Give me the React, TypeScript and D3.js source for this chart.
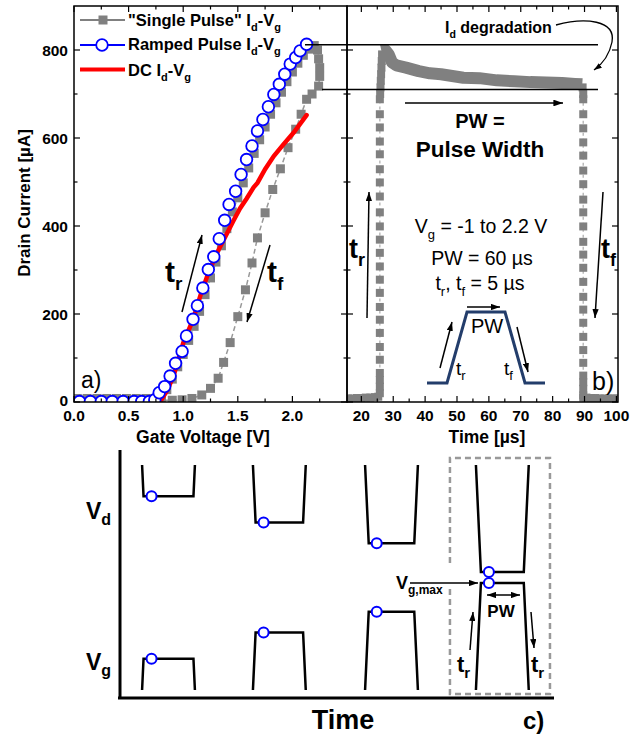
import React from "react";
import * as d3 from "d3";

const FONT = "'Liberation Sans', Arial, Helvetica, sans-serif";

// ---------- panel a: Id-Vg ----------
const rampV = [0.05, 0.15, 0.25, 0.35, 0.45, 0.55, 0.62, 0.69, 0.74, 0.78, 0.83, 0.88, 0.93, 0.99, 1.03, 1.09, 1.13, 1.18, 1.23, 1.28, 1.33, 1.38, 1.42, 1.48, 1.53, 1.58, 1.63, 1.68, 1.73, 1.78, 1.83, 1.88, 1.93, 1.98, 2.03, 2.07, 2.13];
const rampI = [1, 1, 1, 1, 1, 1, 1, 1, 5, 21, 35, 59, 88, 115, 150, 188, 219, 259, 301, 330, 371, 413, 449, 479, 517, 551, 582, 616, 642, 671, 699, 722, 745, 768, 783, 798, 813];

const singleV = [0.03, 0.12, 0.21, 0.3, 0.39, 0.48, 0.57, 0.66, 0.74, 0.8, 0.85, 0.9, 0.95, 1.0, 1.05, 1.1, 1.15, 1.2, 1.25, 1.3, 1.35, 1.4, 1.45, 1.5, 1.55, 1.6, 1.65, 1.7, 1.75, 1.8, 1.85, 1.9, 1.95, 2.0, 2.05, 2.1, 2.15, 2.2, 2.23, 2.24, 2.25, 2.25, 2.24, 2.18, 2.13, 2.08, 2.03, 1.96, 1.89, 1.82, 1.75, 1.68, 1.63, 1.57, 1.5, 1.43, 1.37, 1.32, 1.25, 1.17, 1.08, 0.99, 0.9, 0.8, 0.7, 0.6, 0.5, 0.4, 0.3, 0.2, 0.1, 0.02];
const singleI = [8, 8, 8, 8, 8, 8, 8, 8, 8, 12, 28, 52, 80, 108, 140, 172, 206, 244, 282, 318, 355, 394, 432, 464, 498, 532, 565, 596, 625, 654, 680, 704, 728, 750, 770, 788, 802, 810, 800, 780, 760, 740, 718, 700, 688, 654, 620, 578, 530, 483, 430, 373, 316, 255, 194, 135, 90, 54, 31, 16, 8, 5, 4, 4, 4, 4, 4, 4, 4, 4, 4, 4];

const dcV = [0.8, 0.85, 0.91, 1.0, 1.09, 1.16, 1.23, 1.31, 1.39, 1.46, 1.52, 1.58, 1.645, 1.68, 1.75, 1.83, 1.92, 2.01, 2.13];
const dcI = [5, 25, 58, 134, 187, 244, 293, 339, 378, 412, 440, 462, 488, 498, 529, 559, 586, 612, 652];

const aXTicks = [0, 0.5, 1.0, 1.5, 2.0];
const aXMinor = [0.25, 0.75, 1.25, 1.75, 2.25];
const iTicks = [0, 200, 400, 600, 800];
const iMinor = [100, 300, 500, 700];

// ---------- panel b: single pulse Id(t) ----------
const edgeT = [15.8, 17.2, 18.6, 20, 21.4, 22.8, 24.2, 25.3, 25.8, 25.8, 25.8, 25.8, 25.8, 25.8, 25.8, 25.8, 25.8, 25.8, 25.8, 25.8, 25.8, 25.8, 25.8, 25.8, 25.8, 25.8, 25.8, 25.8, 25.8, 25.8, 25.8, 25.8, 25.9, 26, 26.1, 26.2, 26.3, 26.4, 26.5];
const edgeI = [8, 8, 9, 9, 10, 10, 11, 12, 20, 35, 50, 66, 96, 125, 157, 187, 216, 248, 278, 308, 339, 369, 399, 431, 467, 499, 529, 563, 592, 624, 654, 688, 700, 715, 730, 745, 760, 775, 790];
const fallT = [89.4, 89.6, 89.6, 89.6, 89.6, 89.6, 89.6, 89.6, 89.6, 89.6, 89.6, 89.6, 89.6, 89.6, 89.6, 89.6, 89.6, 89.6, 89.6, 89.6, 89.6, 89.6, 89.6, 89.6, 89.6, 89.6, 89.6, 90.6, 92, 93.4, 94.8, 96.2, 97.6, 99, 100.2];
const fallI = [715, 700, 688, 654, 622, 590, 560, 526, 495, 460, 431, 399, 364, 335, 305, 273, 239, 210, 180, 148, 118, 89, 60, 45, 30, 15, 10, 10, 9, 9, 8, 8, 8, 8, 8];
const plateauT = [26.3, 27.5, 28.6, 29.6, 31, 34, 38, 41.5, 45, 52, 57, 62.5, 68, 73, 78, 83, 87, 89.3];
const plateauI = [798, 800, 790, 772, 765, 760, 752, 747, 745, 737, 736, 731, 729, 727, 726, 725, 723, 722];

const bXTicks = [20, 30, 40, 50, 60, 70, 80, 90, 100];
const bXMinor = [25, 35, 45, 55, 65, 75, 85, 95];

// ---------- panel c: pulse trains ----------
const cPulseStart = [5.1, 30.7, 56.6, 82.2];
const cVgAmp = [0.6, 1.1, 1.5, 2.05];

function Sub({ size, shift, children }: { size: number; shift: number; children: React.ReactNode }) {
  return (
    <tspan fontSize={size} dy={shift}>
      {children}
    </tspan>
  );
}

export default function App() {
  const xA = d3.scaleLinear().domain([0, 2.5]).range([74, 347]);
  const yI = d3.scaleLinear().domain([0, 900]).range([402, 6]);
  const xB = d3.scaleLinear().domain([15.5, 100.5]).range([347, 618]);
  const xC = d3.scaleLinear().domain([0, 100]).range([120, 553]);
  const yVg = d3.scaleLinear().domain([0, 2.05]).range([690, 583]);
  const yVd = d3.scaleLinear().domain([0, 2.05]).range([465, 572]);

  const pathA = (vs: number[], is: number[]) =>
    d3.line<number>().x((v) => xA(v)).y((_, i) => yI(is[i]))(vs) || "";
  const pathB = (ts: number[], is: number[]) =>
    d3.line<number>().x((t) => xB(t)).y((_, i) => yI(is[i]))(ts) || "";

  const bT = [...edgeT, ...plateauT, ...fallT];
  const bI = [...edgeI, ...plateauI, ...fallI];
  const sqT = [...edgeT, ...fallT];
  const sqI = [...edgeI, ...fallI];

  const [aL, aR] = xA.range();
  const [bL, bR] = xB.range();
  const [yB, yT] = yI.range();

  const rw = 0.56; // rise width per volt (time units)
  const pw = 12.2;

  // dashed box round the last pulse, open on the left where the arrow enters
  const bx0 = xC(76.2);
  const bx1 = xC(99.3);
  const by0 = yVd(0) - 7;
  const by1 = yVg(0) + 4;
  const boxPath = `M${bx0},563 L${bx0},${by0} L${bx1},${by0} L${bx1},${by1} L${bx0},${by1} L${bx0},589`;

  return (
    <svg
      width={639}
      height={735}
      style={{ position: "absolute", left: 0, top: 0, background: "#fff" }}
      fontFamily={FONT}
    >
      <defs>
        <marker id="ah" viewBox="0 0 10 7" refX="10" refY="3.5" markerWidth="6" markerHeight="4.2" orient="auto">
          <path d="M0,0 L10,3.5 L0,7 z" fill="#000" />
        </marker>
        <clipPath id="clipA">
          <rect x={aL} y={yT} width={aR - aL} height={yB - yT} />
        </clipPath>
        <clipPath id="clipB">
          <rect x={bL} y={yT} width={bR - bL} height={yB - yT} />
        </clipPath>
      </defs>

      {/* ===== panel a ===== */}
      <g clipPath="url(#clipA)">
        <path d={pathA(singleV, singleI)} fill="none" stroke="#999" strokeWidth={1.5} strokeDasharray="5 3" />
        {singleV.map((v, i) => (
          <rect key={i} x={xA(v) - 4.5} y={yI(singleI[i]) - 4.5} width={9} height={9} fill="#808080" />
        ))}
        <path d={pathA(dcV, dcI)} fill="none" stroke="#ff0000" strokeWidth={4.5} strokeLinecap="round" />
        {rampV.map((v, i) => (
          <circle key={i} cx={xA(v)} cy={yI(rampI[i])} r={5.8} fill="#fff" stroke="#0000ff" strokeWidth={1.8} />
        ))}
      </g>

      {/* ===== panel b ===== */}
      <g clipPath="url(#clipB)">
        <path d={pathB(bT, bI)} fill="none" stroke="#bbb" strokeWidth={1.5} strokeDasharray="3 3" />
        <path d={pathB(plateauT, plateauI)} fill="none" stroke="#808080" strokeWidth={12} strokeLinejoin="round" />
        {sqT.map((t, i) => (
          <rect key={i} x={xB(t) - 4} y={yI(sqI[i]) - 4} width={8} height={8} fill="#808080" />
        ))}
      </g>

      {/* frames */}
      <rect x={aL} y={yT} width={aR - aL} height={yB - yT} fill="none" stroke="#000" strokeWidth={1.5} />
      <rect x={bL} y={yT} width={bR - bL} height={yB - yT} fill="none" stroke="#000" strokeWidth={1.5} />

      {/* ticks a */}
      {aXTicks.map((v) => (
        <g key={"ax" + v}>
          <line x1={xA(v)} x2={xA(v)} y1={yB} y2={yB - 6} stroke="#000" strokeWidth={1.2} />
          <line x1={xA(v)} x2={xA(v)} y1={yT} y2={yT + 6} stroke="#000" strokeWidth={1.2} />
          <text x={xA(v)} y={421} textAnchor="middle" fontSize={15.5} fontWeight="bold">
            {d3.format(".1f")(v)}
          </text>
        </g>
      ))}
      {aXMinor.map((v) => (
        <g key={"axm" + v}>
          <line x1={xA(v)} x2={xA(v)} y1={yB} y2={yB - 3.5} stroke="#000" strokeWidth={1.2} />
          <line x1={xA(v)} x2={xA(v)} y1={yT} y2={yT + 3.5} stroke="#000" strokeWidth={1.2} />
        </g>
      ))}
      {iTicks.map((v) => (
        <g key={"ay" + v}>
          <line x1={aL} x2={aL + 6} y1={yI(v)} y2={yI(v)} stroke="#000" strokeWidth={1.2} />
          <line x1={aR} x2={aR - 6} y1={yI(v)} y2={yI(v)} stroke="#000" strokeWidth={1.2} />
          <line x1={bL} x2={bL + 6} y1={yI(v)} y2={yI(v)} stroke="#000" strokeWidth={1.2} />
          <line x1={bR} x2={bR - 6} y1={yI(v)} y2={yI(v)} stroke="#000" strokeWidth={1.2} />
          <text x={68} y={yI(v) + (v === 0 ? 4 : 5.5)} textAnchor="end" fontSize={15.5} fontWeight="bold">
            {v}
          </text>
        </g>
      ))}
      {iMinor.map((v) => (
        <g key={"aym" + v}>
          <line x1={aL} x2={aL + 3.5} y1={yI(v)} y2={yI(v)} stroke="#000" strokeWidth={1.2} />
          <line x1={aR} x2={aR - 3.5} y1={yI(v)} y2={yI(v)} stroke="#000" strokeWidth={1.2} />
          <line x1={bL} x2={bL + 3.5} y1={yI(v)} y2={yI(v)} stroke="#000" strokeWidth={1.2} />
          <line x1={bR} x2={bR - 3.5} y1={yI(v)} y2={yI(v)} stroke="#000" strokeWidth={1.2} />
        </g>
      ))}
      {/* ticks b */}
      {bXTicks.map((v) => (
        <g key={"bx" + v}>
          <line x1={xB(v)} x2={xB(v)} y1={yB} y2={yB - 6} stroke="#000" strokeWidth={1.2} />
          <line x1={xB(v)} x2={xB(v)} y1={yT} y2={yT + 6} stroke="#000" strokeWidth={1.2} />
          <text x={xB(v)} y={421} textAnchor="middle" fontSize={15.5} fontWeight="bold">
            {v}
          </text>
        </g>
      ))}
      {bXMinor.map((v) => (
        <g key={"bxm" + v}>
          <line x1={xB(v)} x2={xB(v)} y1={yB} y2={yB - 3.5} stroke="#000" strokeWidth={1.2} />
          <line x1={xB(v)} x2={xB(v)} y1={yT} y2={yT + 3.5} stroke="#000" strokeWidth={1.2} />
        </g>
      ))}

      {/* axis titles */}
      <text x={203} y={443} textAnchor="middle" fontSize={17.5} fontWeight="bold">
        Gate Voltage [V]
      </text>
      <text x={487} y={443} textAnchor="middle" fontSize={17.5} fontWeight="bold">
        Time [µs]
      </text>
      <text transform="translate(30,203) rotate(-90)" textAnchor="middle" fontSize={17} fontWeight="bold">
        Drain Current [µA]
      </text>

      {/* legend a */}
      <line x1={80} x2={125} y1={20} y2={20} stroke="#808080" strokeWidth={2} />
      <rect x={98.5} y={15.5} width={9} height={9} fill="#808080" />
      <text x={128} y={26} fontSize={16.5} fontWeight="bold">
        "Single Pulse" I<Sub size={11} shift={5}>d</Sub>
        <Sub size={16.5} shift={-5}>-V</Sub>
        <Sub size={11} shift={5}>g</Sub>
      </text>
      <line x1={80} x2={125} y1={45} y2={45} stroke="#0000ff" strokeWidth={2} />
      <circle cx={102} cy={45} r={5.8} fill="#fff" stroke="#0000ff" strokeWidth={1.8} />
      <text x={128} y={50} fontSize={16.5} fontWeight="bold">
        Ramped Pulse I<Sub size={11} shift={5}>d</Sub>
        <Sub size={16.5} shift={-5}>-V</Sub>
        <Sub size={11} shift={5}>g</Sub>
      </text>
      <line x1={80} x2={125} y1={69.5} y2={69.5} stroke="#ff0000" strokeWidth={4} />
      <text x={128} y={76} fontSize={16.5} fontWeight="bold">
        DC I<Sub size={11} shift={5}>d</Sub>
        <Sub size={16.5} shift={-5}>-V</Sub>
        <Sub size={11} shift={5}>g</Sub>
      </text>

      {/* panel a annotations */}
      <line x1={182} y1={312} x2={202} y2={235} stroke="#000" strokeWidth={1.5} markerEnd="url(#ah)" />
      <text x={165} y={282} fontSize={30} fontWeight="bold">
        t<Sub size={19} shift={8}>r</Sub>
      </text>
      <line x1={270} y1={245} x2={247} y2={322} stroke="#000" strokeWidth={1.5} markerEnd="url(#ah)" />
      <text x={267} y={282} fontSize={30} fontWeight="bold">
        t<Sub size={19} shift={8}>f</Sub>
      </text>
      <text x={81} y={388} fontSize={23}>
        a)
      </text>

      {/* shared horizontal lines */}
      <line x1={305} x2={598} y1={yI(812)} y2={yI(812)} stroke="#000" strokeWidth={1.5} />
      <line x1={322} x2={598} y1={yI(710)} y2={yI(710)} stroke="#000" strokeWidth={1.5} />

      {/* panel b annotations */}
      <text x={445} y={33} fontSize={16} fontWeight="bold">
        I<Sub size={10.5} shift={5}>d</Sub>
        <Sub size={16} shift={-5}> degradation</Sub>
      </text>
      <path d="M556,25 C585,17 616,20 612,42 C609,57 601,65 594,70" fill="none" stroke="#000" strokeWidth={1.3} markerEnd="url(#ah)" />
      <line x1={405} x2={563} y1={103} y2={103} stroke="#000" strokeWidth={1.6} markerEnd="url(#ah)" />
      <text x={480} y={128} textAnchor="middle" fontSize={20} fontWeight="bold">
        PW =
      </text>
      <text x={480} y={157} textAnchor="middle" fontSize={22.5} fontWeight="bold">
        Pulse Width
      </text>
      <line x1={367} y1={318} x2={369} y2={192} stroke="#000" strokeWidth={1.5} markerEnd="url(#ah)" />
      <text x={349} y={258} fontSize={27} fontWeight="bold">
        t<Sub size={18} shift={8}>r</Sub>
      </text>
      <line x1={603} y1={192} x2={595} y2={318} stroke="#000" strokeWidth={1.5} markerEnd="url(#ah)" />
      <text x={601} y={258} fontSize={27} fontWeight="bold">
        t<Sub size={18} shift={8}>f</Sub>
      </text>
      <text x={481} y={233} textAnchor="middle" fontSize={19.5}>
        V<Sub size={13} shift={6}>g</Sub>
        <Sub size={19.5} shift={-6}> = -1 to 2.2 V</Sub>
      </text>
      <text x={482} y={265} textAnchor="middle" fontSize={19.5}>
        PW = 60 µs
      </text>
      <text x={480} y={290} textAnchor="middle" fontSize={19.5}>
        t<Sub size={13} shift={6}>r</Sub>
        <Sub size={19.5} shift={-6}>, t</Sub>
        <Sub size={13} shift={6}>f</Sub>
        <Sub size={19.5} shift={-6}> = 5 µs</Sub>
      </text>
      <path d="M427,383 L447,383 L467,312 L505,312 L525,383 L545,383" fill="none" stroke="#233d6b" strokeWidth={3} />
      <line x1={467} y1={307} x2={500} y2={307} stroke="#000" strokeWidth={1.5} markerEnd="url(#ah)" />
      <line x1={440} y1={368} x2={452} y2={322} stroke="#000" strokeWidth={1.5} markerEnd="url(#ah)" />
      <line x1={517} y1={327} x2={528} y2={372} stroke="#000" strokeWidth={1.5} markerEnd="url(#ah)" />
      <text x={487} y={333} textAnchor="middle" fontSize={20}>
        PW
      </text>
      <text x={456} y={375} fontSize={19}>
        t<Sub size={13} shift={5}>r</Sub>
      </text>
      <text x={504} y={375} fontSize={19}>
        t<Sub size={13} shift={5}>f</Sub>
      </text>
      <text x={592} y={390} fontSize={25}>
        b)
      </text>

      {/* ===== panel c ===== */}
      <line x1={120} y1={450} x2={120} y2={698} stroke="#000" strokeWidth={3} />
      <line x1={118} y1={698} x2={554} y2={698} stroke="#000" strokeWidth={3} />
      <path d={boxPath} fill="none" stroke="#999" strokeWidth={2.5} strokeDasharray="6 4" />
      {cPulseStart.map((s, i) => {
        const a = cVgAmp[i];
        const pts: [number, number][] = [
          [s, 0],
          [s + a * rw, a],
          [s + pw - a * rw, a],
          [s + pw, 0],
        ];
        const vg = d3.line<[number, number]>().x((d) => xC(d[0])).y((d) => yVg(d[1]))(pts) || "";
        const vd = d3.line<[number, number]>().x((d) => xC(d[0])).y((d) => yVd(d[1]))(pts) || "";
        const cxp = xC(s + a * rw) + 8;
        return (
          <g key={i}>
            <path d={vg} fill="none" stroke="#000" strokeWidth={2.5} />
            <path d={vd} fill="none" stroke="#000" strokeWidth={2.5} />
            <circle cx={cxp} cy={yVg(a)} r={5} fill="#fff" stroke="#0000ff" strokeWidth={2} />
            <circle cx={cxp} cy={yVd(a)} r={5} fill="#fff" stroke="#0000ff" strokeWidth={2} />
          </g>
        );
      })}
      <text x={86} y={519} fontSize={23} fontWeight="bold">
        V<Sub size={16} shift={6}>d</Sub>
      </text>
      <text x={86} y={670} fontSize={23} fontWeight="bold">
        V<Sub size={16} shift={6}>g</Sub>
      </text>
      <text x={396} y={589} fontSize={18} fontWeight="bold">
        V<Sub size={12} shift={5}>g,max</Sub>
      </text>
      <line x1={410} y1={583} x2={478} y2={583} stroke="#000" strokeWidth={1.5} markerEnd="url(#ah)" />
      <line x1={503} y1={595} x2={487} y2={595} stroke="#000" strokeWidth={1.5} markerEnd="url(#ah)" />
      <line x1={503} y1={595} x2={520} y2={595} stroke="#000" strokeWidth={1.5} markerEnd="url(#ah)" />
      <text x={501} y={617} textAnchor="middle" fontSize={17} fontWeight="bold">
        PW
      </text>
      <line x1={470} y1={650} x2={473} y2={612} stroke="#000" strokeWidth={1.5} markerEnd="url(#ah)" />
      <line x1={531} y1={612} x2={534} y2={648} stroke="#000" strokeWidth={1.5} markerEnd="url(#ah)" />
      <text x={457} y={672} fontSize={22} fontWeight="bold">
        t<Sub size={15} shift={6}>r</Sub>
      </text>
      <text x={531} y={672} fontSize={22} fontWeight="bold">
        t<Sub size={15} shift={6}>r</Sub>
      </text>
      <text x={343} y={729} textAnchor="middle" fontSize={27} fontWeight="bold">
        Time
      </text>
      <text x={523} y={729} fontSize={24} fontWeight="bold">
        c)
      </text>
    </svg>
  );
}
